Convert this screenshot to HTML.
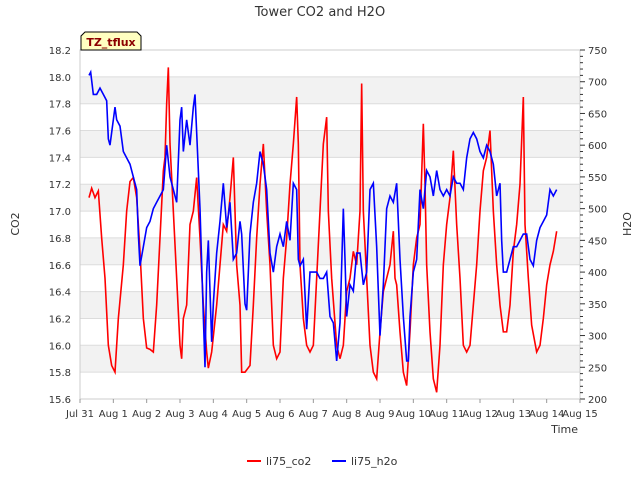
<!DOCTYPE html>
<html><head><meta charset="utf-8"><style>
body{margin:0;background:#fff;font-family:"Liberation Sans","DejaVu Sans",sans-serif;}
svg text{font-family:"DejaVu Sans","Liberation Sans",sans-serif;}
</style></head><body>
<svg id="chart" width="640" height="480" xmlns="http://www.w3.org/2000/svg">
<text x="320" y="16" text-anchor="middle" font-size="13" fill="#333">Tower CO2 and H2O</text>
<g id="bands"></g><g id="grid"></g>
<rect x="80" y="50" width="500" height="349" fill="none" stroke="#ccc"/>
<g id="axes"></g><g id="series"></g>
<text transform="translate(19,224) rotate(-90)" text-anchor="middle" font-size="11" fill="#333">CO2</text>
<text transform="translate(631,224) rotate(-90)" text-anchor="middle" font-size="11" fill="#333">H2O</text>
<text x="578" y="433" text-anchor="end" font-size="11" fill="#333">Time</text>
<g>
<path d="M81,50 L81,36 L85,32 L137,32 L141,36 L141,50 Z" fill="#ffffc0" stroke="#000"/>
<text x="111" y="46" text-anchor="middle" font-size="11" font-weight="bold" fill="#8b0000">TZ_tflux</text></g>
<g>
<line x1="247" y1="461" x2="261" y2="461" stroke="#f00" stroke-width="2"/>
<text x="266" y="465" font-size="11" fill="#333">li75_co2</text>
<line x1="332" y1="461" x2="346" y2="461" stroke="#00f" stroke-width="2"/>
<text x="351" y="465" font-size="11" fill="#333">li75_h2o</text></g>
</svg>
<script>
const xTickLabels=["Jul 31","Aug 1","Aug 2","Aug 3","Aug 4","Aug 5","Aug 6","Aug 7","Aug 8","Aug 9","Aug 10","Aug 11","Aug 12","Aug 13","Aug 14","Aug 15"];
const leftTicks=[15.6,15.8,16.0,16.2,16.4,16.6,16.8,17.0,17.2,17.4,17.6,17.8,18.0,18.2];
const rightTicks=[200,250,300,350,400,450,500,550,600,650,700,750];
const co2Days=[0.27,0.35,0.45,0.55,0.65,0.75,0.85,0.95,1.05,1.15,1.3,1.4,1.5,1.6,1.7,1.8,1.9,2.0,2.1,2.2,2.3,2.4,2.5,2.55,2.6,2.65,2.7,2.8,2.9,3.0,3.05,3.1,3.2,3.3,3.4,3.5,3.6,3.7,3.8,3.85,3.95,4.1,4.2,4.3,4.4,4.5,4.6,4.7,4.8,4.85,4.95,5.1,5.2,5.3,5.4,5.5,5.6,5.7,5.8,5.9,6.0,6.1,6.2,6.3,6.4,6.5,6.55,6.6,6.7,6.8,6.9,7.0,7.1,7.2,7.3,7.4,7.45,7.55,7.7,7.8,7.9,8.0,8.1,8.2,8.3,8.4,8.45,8.5,8.6,8.7,8.8,8.9,9.0,9.1,9.2,9.3,9.4,9.45,9.5,9.6,9.7,9.8,9.9,10.0,10.1,10.2,10.3,10.35,10.4,10.5,10.6,10.7,10.8,10.9,11.0,11.1,11.2,11.3,11.4,11.5,11.6,11.7,11.8,11.9,12.0,12.1,12.2,12.3,12.4,12.5,12.6,12.7,12.8,12.9,13.0,13.1,13.2,13.3,13.35,13.45,13.55,13.7,13.8,13.9,14.0,14.1,14.2,14.3];
const co2Values=[17.1,17.17,17.1,17.15,16.8,16.5,16.0,15.85,15.8,16.2,16.6,17.0,17.22,17.25,17.1,16.7,16.2,15.98,15.97,15.95,16.3,16.8,17.3,17.4,17.8,18.07,17.5,17.0,16.5,16.0,15.9,16.2,16.3,16.9,17.0,17.25,16.8,16.3,15.95,15.83,15.95,16.3,16.6,16.9,16.85,17.1,17.4,16.6,16.3,15.8,15.8,15.85,16.3,16.8,17.2,17.5,17.0,16.6,16.0,15.9,15.95,16.5,16.8,17.2,17.5,17.85,17.5,16.6,16.2,16.0,15.95,16.0,16.5,17.0,17.5,17.7,17.0,16.5,16.0,15.9,16.0,16.4,16.5,16.7,16.6,17.0,17.95,17.0,16.5,16.0,15.8,15.75,16.1,16.4,16.5,16.6,16.85,16.5,16.45,16.1,15.8,15.7,16.1,16.6,16.8,16.9,17.65,17.2,16.6,16.1,15.75,15.65,16.0,16.6,16.9,17.1,17.45,16.9,16.5,16.0,15.95,16.0,16.3,16.6,17.0,17.3,17.4,17.6,17.0,16.6,16.3,16.1,16.1,16.3,16.7,16.9,17.2,17.85,16.9,16.5,16.15,15.95,16.0,16.2,16.45,16.6,16.7,16.85];
const h2oDays=[0.27,0.32,0.4,0.5,0.6,0.7,0.8,0.85,0.9,1.0,1.05,1.1,1.2,1.3,1.4,1.5,1.6,1.7,1.75,1.8,1.9,2.0,2.1,2.2,2.3,2.4,2.5,2.6,2.7,2.8,2.9,3.0,3.05,3.1,3.2,3.3,3.4,3.45,3.5,3.6,3.7,3.75,3.8,3.85,3.95,4.0,4.1,4.2,4.3,4.4,4.5,4.6,4.7,4.8,4.85,4.95,5.0,5.1,5.2,5.3,5.4,5.5,5.6,5.7,5.8,5.9,6.0,6.1,6.2,6.3,6.4,6.5,6.55,6.6,6.7,6.8,6.9,7.0,7.1,7.2,7.3,7.4,7.5,7.6,7.7,7.8,7.9,7.95,8.0,8.1,8.2,8.3,8.4,8.5,8.6,8.7,8.8,8.9,9.0,9.1,9.2,9.3,9.4,9.5,9.6,9.7,9.8,9.85,9.9,10.0,10.1,10.2,10.3,10.4,10.5,10.6,10.7,10.8,10.9,11.0,11.1,11.2,11.3,11.4,11.5,11.6,11.7,11.8,11.9,12.0,12.1,12.2,12.3,12.4,12.5,12.6,12.65,12.7,12.8,12.9,13.0,13.1,13.2,13.3,13.4,13.5,13.6,13.7,13.8,13.9,14.0,14.1,14.2,14.3];
const h2oValues=[710,715,680,680,690,680,670,610,600,640,660,640,630,590,580,570,550,530,460,410,440,470,480,500,510,520,530,600,550,530,510,640,660,590,640,600,660,680,620,500,330,250,400,450,290,350,430,480,540,470,510,420,430,480,460,350,340,460,510,540,590,570,530,430,400,440,460,440,480,450,540,530,420,410,420,310,400,400,400,390,390,400,330,320,260,320,500,420,330,380,370,430,430,380,400,530,540,440,300,380,500,520,510,540,420,330,260,260,330,400,420,530,500,560,550,520,560,530,520,530,520,550,540,540,530,580,610,620,610,590,580,600,590,570,520,540,450,400,400,420,440,440,450,460,460,420,410,450,470,480,490,530,520,530];
const NS="http://www.w3.org/2000/svg";
const X0=80,X1=580,Y0=399,Y1=50;
const xs=d=>X0+(X1-X0)*d/15;
const yL=v=>Y0-(v-15.6)/(18.2-15.6)*(Y0-Y1);
const yR=v=>Y0-(v-200)/(750-200)*(Y0-Y1);
function mk(tag,attrs,parent){const e=document.createElementNS(NS,tag);for(const k in attrs)e.setAttribute(k,attrs[k]);document.getElementById(parent).appendChild(e);return e;}
for(let i=0;i<leftTicks.length-1;i++){
 if(i%2===1){const b=mk('rect',{x:X0,y:yL(leftTicks[i+1]),width:X1-X0,height:yL(leftTicks[i])-yL(leftTicks[i+1]),fill:'#f2f2f2'},'bands');
 
 }
}
leftTicks.forEach(v=>{
 const l=mk('line',{x1:X0,x2:X1,y1:yL(v),y2:yL(v),stroke:'#dcdcdc'},'grid');
 
 
 const t=mk('text',{x:X0-9,y:yL(v)+4,'text-anchor':'end','font-size':'10',fill:'#333'},'axes');t.textContent=v.toFixed(1);
 
 
});
rightTicks.forEach(v=>{
 const t=mk('text',{x:X1+8,y:yR(v)+4,'font-size':'10',fill:'#333'},'axes');t.textContent=v;
 
 
});
for(let v=200;v<=750;v+=10){const m=mk('line',{x1:X1,x2:X1+(v%50===0?5:3),y1:yR(v),y2:yR(v),stroke:'#333'},'axes');
 
 }
xTickLabels.forEach((s,i)=>{
 const m=mk('line',{x1:xs(i),x2:xs(i),y1:Y0,y2:Y0+4,stroke:'#999'},'axes');
 
 
 const t=mk('text',{x:xs(i),y:Y0+18,'text-anchor':'middle','font-size':'10',fill:'#333'},'axes');t.textContent=s;
 
 
});
const pc=mk('polyline',{points:co2Days.map((d,i)=>xs(d)+','+yL(co2Values[i])).join(' '),fill:'none',stroke:'#f00','stroke-width':'1.6'},'series');


const ph=mk('polyline',{points:h2oDays.map((d,i)=>xs(d)+','+yR(h2oValues[i])).join(' '),fill:'none',stroke:'#00f','stroke-width':'1.6'},'series');


</script>
</body></html>
